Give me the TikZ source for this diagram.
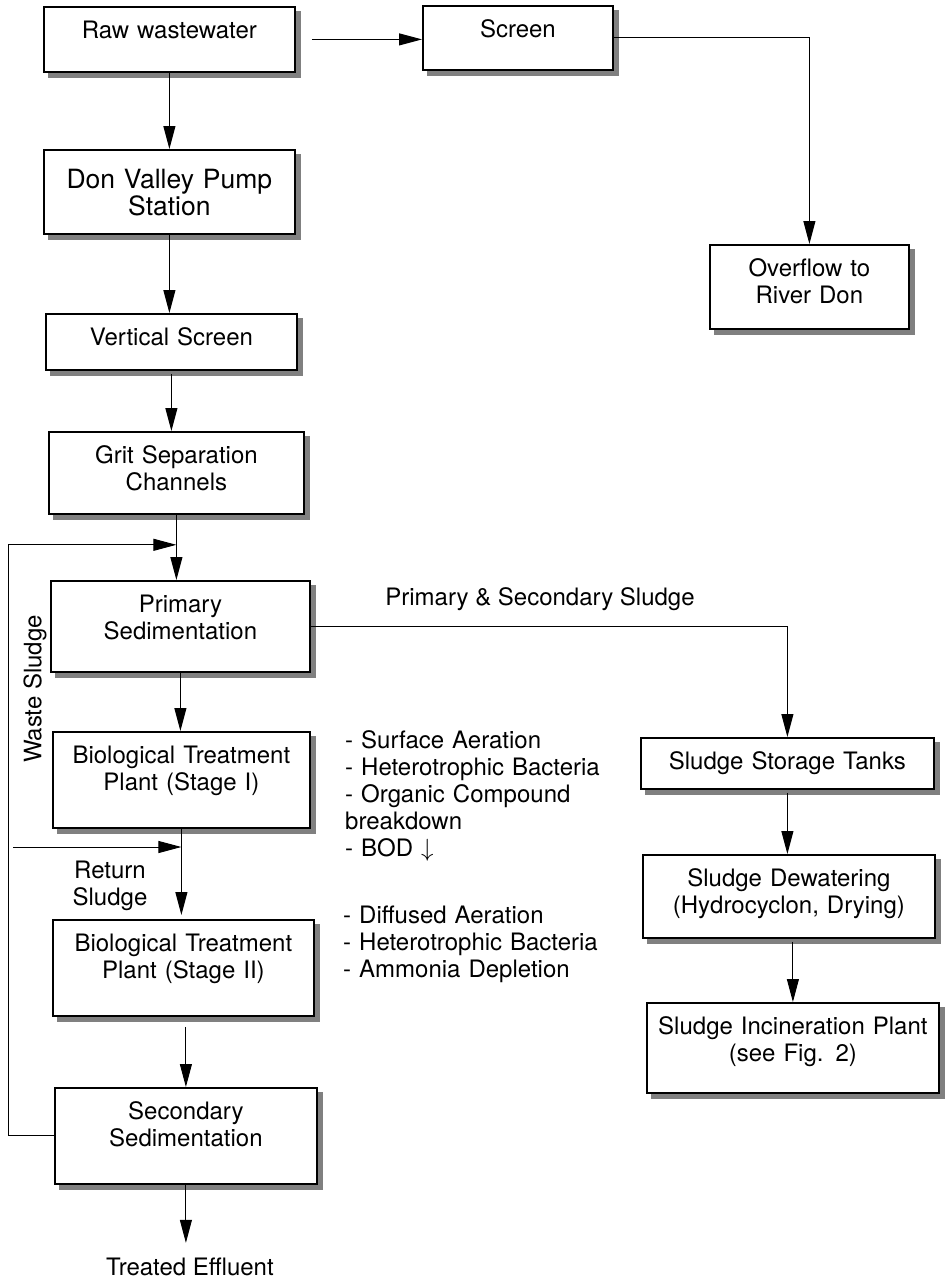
\documentclass[tikz,border=0pt]{standalone}
\usepackage{fontspec}
\setmainfont{TeX Gyre Heros}
\usetikzlibrary{calc}
\usetikzlibrary{arrows.meta}
\usetikzlibrary{backgrounds}

\tikzset{
  box/.style={draw=black, line width=1.8pt, fill=white, inner sep=0pt, align=center,
    anchor=north west, text height=32pt, font=\fontsize{24}{27}\selectfont},
  plain/.style={inner sep=0pt, font=\fontsize{24}{27}\selectfont},
  arr/.style={black, line width=1pt, -{Triangle[length=23pt,width=12pt]}}
}

\begin{document}
\begin{tikzpicture}[x=1pt,y=-1pt]
\useasboundingbox (0,0) rectangle (947,1283);

% main line
\node[box, text width=251pt, text depth=33pt] (raw) at (43,6) {Raw wastewater};
\node[box, text width=251pt, text height=38.5pt, text depth=45.5pt,
  font=\fontsize{26.5}{27}\selectfont] (don) at (43,149) {Don Valley Pump\\Station};
\node[box, text width=251pt, text depth=24pt] (vscreen) at (45,313) {Vertical Screen};
\node[box, text width=255pt, text depth=50pt] (grit) at (48,431) {Grit Separation\\Channels};
\node[box, text width=259pt, text depth=59pt] (primary) at (50,580) {Primary\\Sedimentation};
\node[box, text width=257pt, text depth=64pt] (bioone) at (52,731) {Biological Treatment\\Plant (Stage I)};
\node[box, text width=261pt, text depth=64pt] (biotwo) at (52,919) {Biological Treatment\\Plant (Stage II)};
\node[box, text width=262pt, text depth=64pt] (secsed) at (54,1087) {Secondary\\Sedimentation};
\node[plain, inner ysep=15pt, anchor=base] (effluent) at (190,1275.6) {Treated Effluent};

% overflow
\node[box, text width=190pt, text depth=32pt] (screen) at (422,5) {Screen};
\node[box, text width=199pt, text depth=52pt] (overflow) at (709,244) {Overflow to\\River Don};

% sludge line
\node[box, text width=293pt, text depth=19pt] (storage) at (640,737) {Sludge Storage Tanks};
\node[box, text width=292pt, text depth=51pt] (dewater) at (642,854) {Sludge Dewatering\\(Hydrocyclon, Drying)};
\node[box, text width=292pt, text depth=58pt] (incin) at (646,1002) {Sludge Incineration Plant\\(see Fig. 2)};

% shadows
\begin{scope}[on background layer]
\foreach \n in {raw,don,vscreen,grit,primary,bioone,biotwo,secsed,screen,overflow,storage,dewater,incin}
  \fill[black!50] ([shift={(5pt,-5pt)}]\n.south west) rectangle ([shift={(5pt,-5pt)}]\n.north east);
\end{scope}

% notes
\node[plain, text width=270pt, align=left, anchor=base west] (notesone) at (345,748.6)
  {- Surface Aeration\\- Heterotrophic Bacteria\\- Organic Compound\\breakdown\\- BOD $\downarrow$};
\node[plain, text width=270pt, align=left, anchor=base west] (notestwo) at (343,923.6)
  {- Diffused Aeration\\- Heterotrophic Bacteria\\- Ammonia Depletion};
\node[plain, anchor=base] (sludgelbl) at (540,605.6) {Primary \& Secondary Sludge};
\node[plain, text width=100pt, align=center, anchor=base] (retlbl) at (110,878.6) {Return\\Sludge};
\node[plain, rotate=90] (wastelbl) at (35,689) {Waste Sludge};

\coordinate (wastein) at ($(grit.south)+(0,30)$);
\coordinate (retstart) at (13,847);

\draw[arr, shorten <=16pt] (raw.east) -- (raw.east -| screen.west);
\draw[arr] (screen.east) -| (overflow.north);
\draw[arr] (raw.south) -- (don.north);
\draw[arr] (don.south) -- (don.south |- vscreen.north);
\draw[arr, shorten <=3pt] (vscreen.south) -- (vscreen.south |- grit.north);
\draw[arr] (grit.south) -- (grit.south |- primary.north);
\draw[arr] (primary.south) -- (primary.south |- bioone.north);
\draw[arr, shorten >=4pt] (bioone.south) -- (bioone.south |- biotwo.north);
\draw[arr, shorten <=10pt] (secsed.north |- biotwo.south) -- (secsed.north);
\draw[arr] (secsed.south) -- (secsed.south |- effluent.north);

\draw[arr] (secsed.west) -- ++(-46,0) |- (wastein);
\draw[arr] (retstart) -- (retstart -| bioone.south);

\draw[arr] (primary.east) -| (storage.north);
\draw[arr, shorten <=3pt] (storage.south) -- (storage.south |- dewater.north);
\draw[arr, shorten <=3pt] (incin.north |- dewater.south) -- (incin.north);

\end{tikzpicture}
\end{document}
